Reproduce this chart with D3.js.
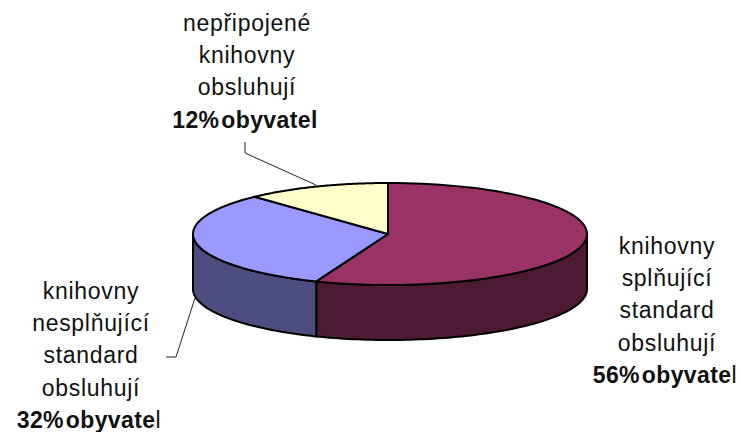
<!DOCTYPE html>
<html><head><meta charset="utf-8">
<script src="https://cdn.jsdelivr.net/npm/d3@7/dist/d3.min.js"></script>
<style>html,body{margin:0;padding:0;background:#fff}svg{display:block}text{font-family:"Liberation Sans",Arial,sans-serif;font-size:23px;letter-spacing:0.7px;fill:#111}.b{font-weight:bold;letter-spacing:0.4px;word-spacing:-5px}</style>
</head><body><svg id="c" width="741" height="432"></svg>
<script>
const categories = ["knihovny splňující standard", "knihovny nesplňující standard", "nepřipojené knihovny"];
const values = [56, 32, 12];
const topColors = ["#993366", "#9999FF", "#FFFFCC"];
const sideColors = ["#4D1A33", "#4D4D80", "#808066"];
const labelLines = [
  ["knihovny", "splňující", "standard", "obsluhují"],
  ["knihovny", "nesplňující", "standard", "obsluhují"],
  ["nepřipojené", "knihovny", "obsluhují"]
];
const labelBold = ["56% obyvate", "32% obyvate", "12% obyvatel"];
const labelTail = ["l", "l", ""];
const labelAnchor = [[667, 254], [91, 299], [247, 31]];
const leaderLines = [null, [[166, 357], [176, 357], [195, 298]], [[245, 142], [245, 153], [316, 185]]];

const cx = 388, cy = 234, rxRight = 199, rxLeft = 195, ry = 51, depth = 55, lineGap = 32.2;
const svg = d3.select("#c");
const pie = d3.pie().sort(null).value(d => d)(values);
const px = a => { const s = Math.sin(a); return cx + (s > 0 ? rxRight : rxLeft) * s; };
const py = a => cy - ry * Math.cos(a);
const arcPts = (a0, a1, dy = 0) => d3.range(0, 81).map(i => {
  const a = a0 + (a1 - a0) * i / 80; return [px(a), py(a) + dy];
});
const line = d3.line();
const front0 = Math.PI / 2, front1 = 3 * Math.PI / 2;

// side wall
pie.forEach((s, i) => {
  const a0 = Math.max(s.startAngle, front0), a1 = Math.min(s.endAngle, front1);
  if (a1 <= a0) return;
  const pts = arcPts(a0, a1).concat(arcPts(a0, a1, depth).reverse());
  svg.append("path").attr("d", line(pts) + "Z").attr("fill", sideColors[i])
    .attr("stroke", "#000").attr("stroke-width", 2).attr("stroke-linejoin", "round");
});
// top face
pie.forEach((s, i) => {
  const pts = [[cx, cy]].concat(arcPts(s.startAngle, s.endAngle));
  svg.append("path").attr("d", line(pts) + "Z").attr("fill", topColors[i])
    .attr("stroke", "#000").attr("stroke-width", 2).attr("stroke-linejoin", "round");
});
// leaders
leaderLines.forEach(l => {
  if (l) svg.append("path").attr("d", line(l)).attr("fill", "none").attr("stroke", "#222").attr("stroke-width", 1);
});
// labels
labelLines.forEach((lines, i) => {
  const [x, y] = labelAnchor[i];
  lines.forEach((t, j) => {
    svg.append("text").attr("x", x).attr("y", y + j * lineGap).attr("text-anchor", "middle").text(t);
  });
  const b = svg.append("text").attr("x", x - 2).attr("y", y + lines.length * lineGap).attr("text-anchor", "middle");
  b.append("tspan").attr("class", "b").text(labelBold[i]);
  if (labelTail[i]) b.append("tspan").text(labelTail[i]);
});
</script></body></html>
